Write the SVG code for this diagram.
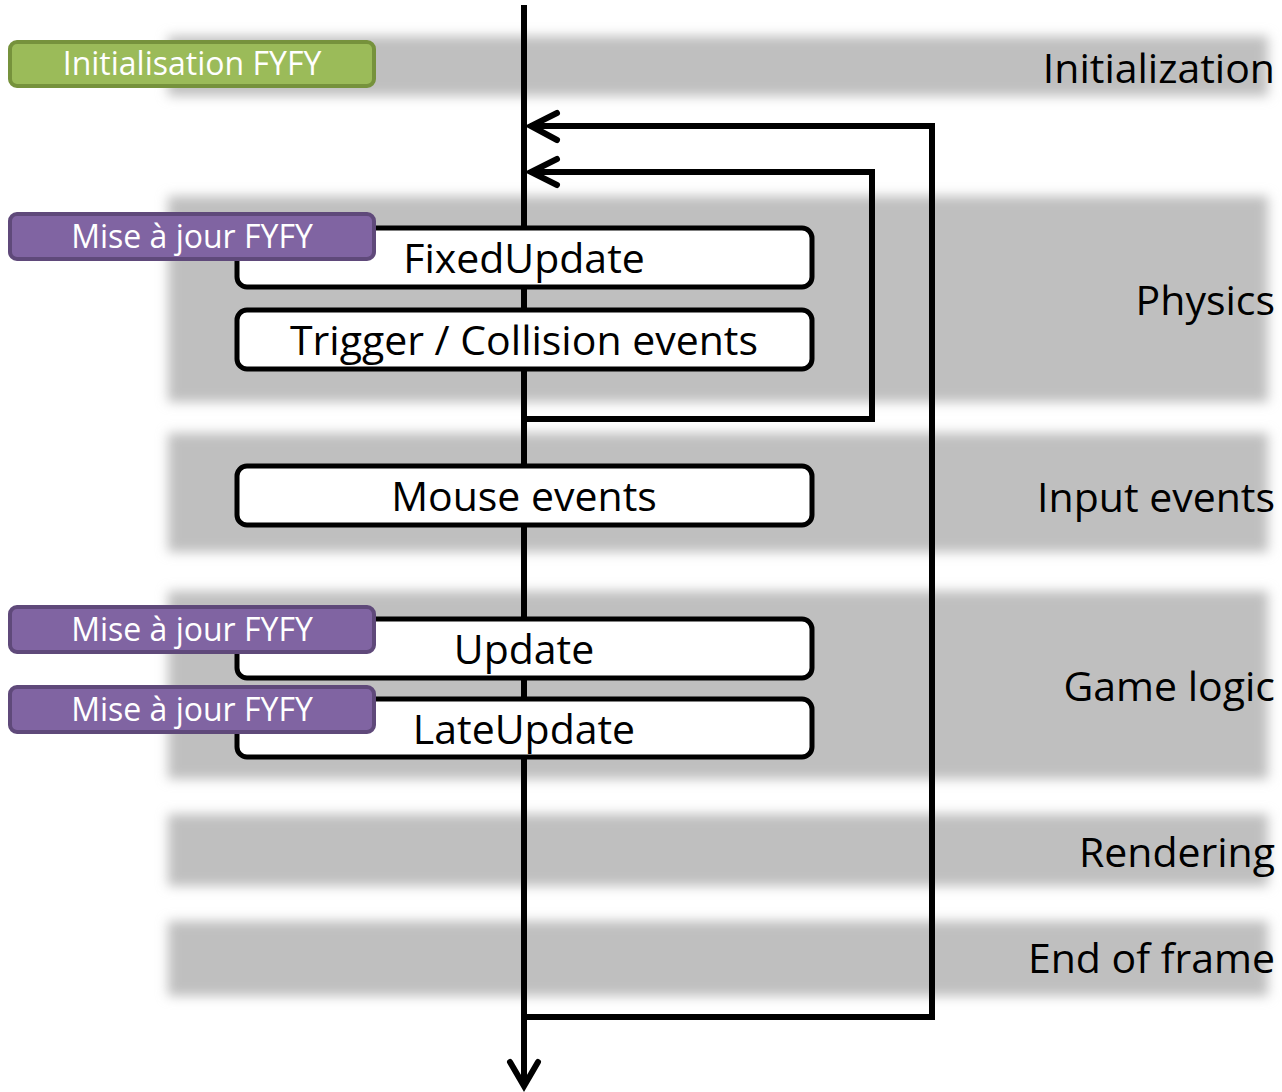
<svg xmlns="http://www.w3.org/2000/svg" width="1282" height="1092" viewBox="0 0 1282 1092">
<defs>
<filter id="blur" x="-5%" y="-30%" width="110%" height="160%"><feGaussianBlur stdDeviation="6"/></filter>
<style>
.band{fill:#bfbfbf;filter:url(#blur)}
.ln{fill:none;stroke:#000;stroke-width:6;stroke-linecap:butt;stroke-linejoin:miter}
.ah{fill:none;stroke:#000;stroke-width:6;stroke-linecap:round;stroke-linejoin:miter}
.box{fill:#fff;stroke:#000;stroke-width:5}
.bt{font-family:"Open Sans","Noto Sans",sans-serif;font-size:41px;fill:#000;text-anchor:middle}
.phase{font-family:"Open Sans","Noto Sans",sans-serif;font-size:41px;fill:#000;text-anchor:end}
.purple{fill:#8064a2;stroke:#5f497a;stroke-width:4}
.green{fill:#9bbb59;stroke:#76923c;stroke-width:4}
.lt{font-family:"Open Sans","Noto Sans",sans-serif;font-size:32px;fill:#fff;text-anchor:middle}
</style>
</defs>
<rect width="1282" height="1092" fill="#fff"/>
<g id="bands">
<rect class="band" x="168" y="36" width="1100" height="60"/>
<rect class="band" x="168" y="196" width="1100" height="206"/>
<rect class="band" x="168" y="433" width="1100" height="119"/>
<rect class="band" x="168" y="591" width="1100" height="188"/>
<rect class="band" x="168" y="814" width="1100" height="72"/>
<rect class="band" x="168" y="921" width="1100" height="75"/>
</g>
<g id="phase-labels">
<text class="phase" x="1275" y="83">Initialization</text>
<text class="phase" x="1275" y="315">Physics</text>
<text class="phase" x="1275" y="512">Input events</text>
<text class="phase" x="1275" y="701">Game logic</text>
<text class="phase" x="1275" y="867">Rendering</text>
<text class="phase" x="1275" y="973">End of frame</text>
</g>
<g id="connectors">
<path class="ln" d="M524 5 V1086"/>
<path class="ah" d="M510 1062 L524 1086 L538 1062"/>
<path class="ln" d="M524 1017 H932 V126 H530"/>
<path class="ah" d="M557 113 L531 126 L557 140"/>
<path class="ln" d="M524 419 H872 V172 H530"/>
<path class="ah" d="M557 159 L531 172 L557 185"/>
</g>
<g id="node-fixedupdate"><rect class="box" x="237" y="228" width="575" height="59" rx="10"/><text class="bt" x="524" y="273">FixedUpdate</text></g>
<g id="node-trigger"><rect class="box" x="237" y="310" width="575" height="59" rx="10"/><text class="bt" x="524" y="355">Trigger / Collision events</text></g>
<g id="node-mouse"><rect class="box" x="237" y="466" width="575" height="59" rx="10"/><text class="bt" x="524" y="511">Mouse events</text></g>
<g id="node-update"><rect class="box" x="237" y="619" width="575" height="59" rx="10"/><text class="bt" x="524" y="664">Update</text></g>
<g id="node-lateupdate"><rect class="box" x="237" y="699" width="575" height="58" rx="10"/><text class="bt" x="524" y="744">LateUpdate</text></g>
<g id="label-init"><rect class="green" x="10" y="42" width="364" height="44" rx="7"/><text class="lt" x="192" y="75">Initialisation FYFY</text></g>
<g id="label-mise1"><rect class="purple" x="10" y="214" width="364" height="45" rx="7"/><text class="lt" x="192" y="248">Mise à jour FYFY</text></g>
<g id="label-mise2"><rect class="purple" x="10" y="607" width="364" height="45" rx="7"/><text class="lt" x="192" y="641">Mise à jour FYFY</text></g>
<g id="label-mise3"><rect class="purple" x="10" y="687" width="364" height="45" rx="7"/><text class="lt" x="192" y="721">Mise à jour FYFY</text></g>
</svg>
